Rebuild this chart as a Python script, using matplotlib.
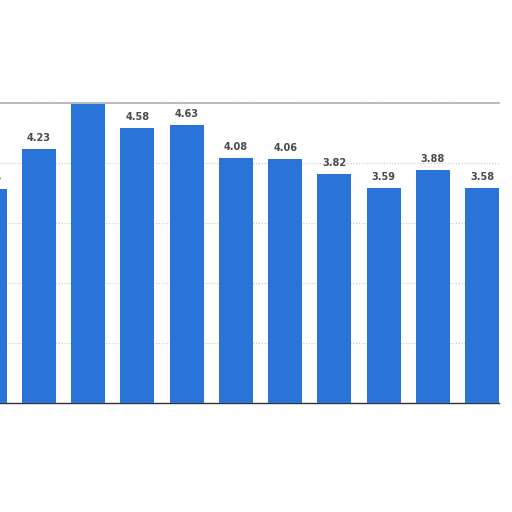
import matplotlib
matplotlib.use("Agg")
import matplotlib.pyplot as plt

values = [3.56, 4.23, 4.98, 4.58, 4.63, 4.08, 4.06, 3.82, 3.59, 3.88, 3.58]
labels = ["3.56", "4.23", "4.98", "4.58", "4.63", "4.08", "4.06", "3.82", "3.59", "3.88", "3.58"]

fig = plt.figure(figsize=(5.12, 5.12), dpi=100)
ax = fig.add_axes([0.0, 0.2129, 0.975, 0.5859])
x = list(range(len(values)))
ax.bar(x, values, width=0.69, color="#2a74d9", zorder=3)
for xi, v, lab in zip(x, values, labels):
    ax.text(xi, v + 0.1, lab, ha="center", va="bottom", fontsize=7,
            fontweight="bold", color="#4a4a4a", clip_on=True, zorder=4)
ax.set_xlim(0.209, 10.345)
ax.set_ylim(0, 5)
ax.set_yticks([0, 1, 2, 3, 4, 5])
ax.grid(axis="y", color="#cccccc", linestyle=(0, (1, 1.5)), linewidth=0.8, zorder=0)
ax.tick_params(left=False, bottom=False, labelleft=False, labelbottom=False)
for s in ["left", "right"]:
    ax.spines[s].set_visible(False)
ax.spines["top"].set_color("#b0b0b0")
ax.spines["top"].set_linewidth(1.2)
ax.spines["bottom"].set_color("#333333")
ax.spines["bottom"].set_linewidth(1.0)
fig.savefig("out.png", dpi=100)
